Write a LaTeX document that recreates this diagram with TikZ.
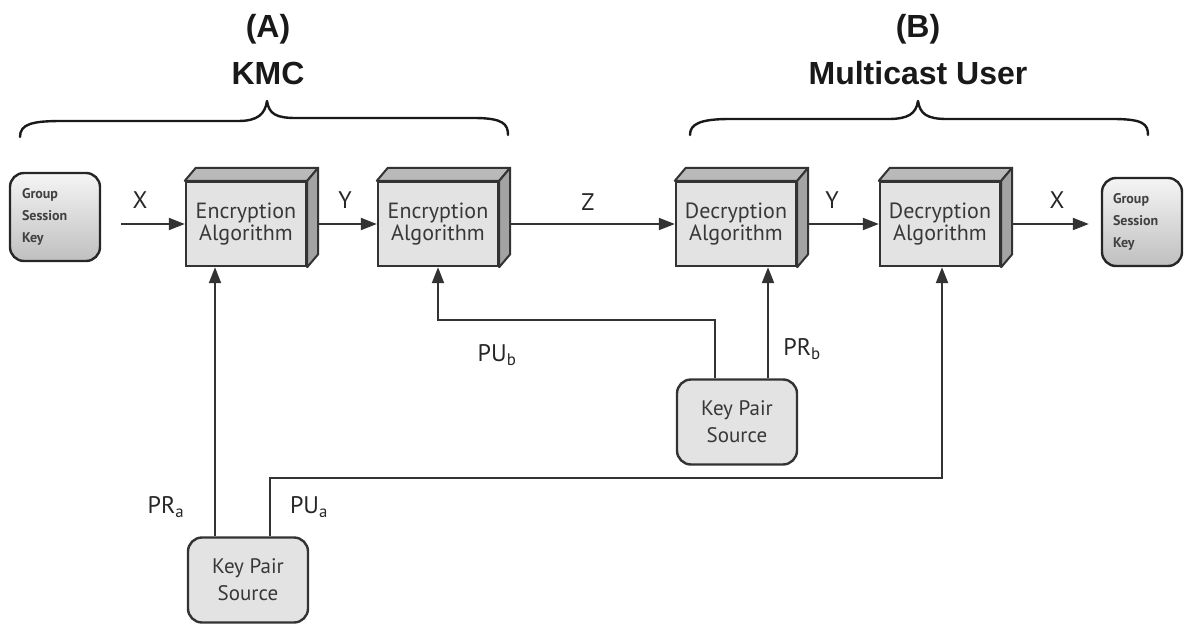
\documentclass[tikz,border=0pt]{standalone}
\usepackage{fontspec}
\setmainfont{PT Sans}
\newfontfamily\titlefont{Liberation Sans}
\usetikzlibrary{arrows.meta,calc}

\begin{document}
\begin{tikzpicture}[x=1pt,y=-1pt,
  arr/.style={draw=black!80, line width=2.2pt, -{Triangle[length=16pt,width=12pt]}},
  cube/.style={rectangle, draw=black!80, line width=2.4pt, fill=gray!22,
    minimum width=120pt, minimum height=84pt, inner sep=0pt, align=center,
    font=\fontsize{22}{22}\selectfont, text=black!78},
  topface/.style={fill=gray!55, draw=black!80, line width=2pt, line join=round},
  sideface/.style={fill=gray!72, draw=black!80, line width=2pt, line join=round},
  keysrc/.style={rectangle, rounded corners=14pt, draw=black!80, line width=2.4pt, fill=gray!22,
    minimum width=120pt, minimum height=85pt, align=center,
    font=\fontsize{21}{27}\selectfont, text=black!78},
  gsk/.style={rectangle, rounded corners=14pt, draw=black!85, line width=2.4pt,
    top color=gray!8, bottom color=gray!50, minimum height=88pt, inner sep=0pt,
    align=left, font=\bfseries\fontsize{14}{22}\selectfont, text=black!75},
  lbl/.style={font=\fontsize{24}{28}\selectfont, text=black!85},
  title/.style={font=\titlefont\bfseries\fontsize{32}{38}\selectfont, text=black!90},
  brace/.style={draw=black!90, line width=2.4pt, line cap=round, line join=round}
]
\useasboundingbox (0,0) rectangle (1191,626);

% titles
\node[title] (tA) at (268,29) {(A)};
\node[title] (tKMC) at (268,73) {KMC};
\node[title] (tB) at (918,29) {(B)};
\node[title] (tMU) at (918,73) {Multicast User};

% braces
\draw[brace] (20,137) .. controls (20,124) and (32,121) .. (62,121) -- (238,121)
  .. controls (258,121) and (265,114) .. (267,101)
  .. controls (269,114) and (276,118) .. (296,118) -- (474,118)
  .. controls (503,118) and (508,124) .. (508,135);
\draw[brace] (690,135) .. controls (690,124) and (700,119) .. (730,119) -- (888,119)
  .. controls (908,119) and (916,114) .. (918,101)
  .. controls (920,114) and (927,119) .. (947,119) -- (1113,119)
  .. controls (1143,119) and (1148,124) .. (1148,135);

% end boxes
\node[gsk, minimum width=90pt, text width=66pt] (gsk1) at (55,217) {Group\\Session\\Key};
\node[gsk, minimum width=80pt, text width=58pt] (gsk2) at (1142,222) {Group\\Session\\Key};

% algorithm blocks
\node[cube] (enc1) at (246,224) {Encryption\\Algorithm};
\node[cube] (enc2) at (438,224) {Encryption\\Algorithm};
\node[cube] (dec1) at (736,224) {Decryption\\Algorithm};
\node[cube] (dec2) at (940,224) {Decryption\\Algorithm};
\foreach \n in {enc1,enc2,dec1,dec2} {
  \filldraw[topface] (\n.north west) -- ++(11pt,13pt) -- ($(\n.north east)+(11pt,13pt)$) -- (\n.north east) -- cycle;
  \filldraw[sideface] (\n.north east) -- ++(11pt,13pt) -- ($(\n.south east)+(11pt,13pt)$) -- (\n.south east) -- cycle;
}

% key pair sources
\node[keysrc] (kpa) at (248,580) {Key Pair\\Source};
\node[keysrc] (kpb) at (737,422) {Key Pair\\Source};

% data path
\coordinate (xin) at ([xshift=20pt]gsk1.east);
\draw[arr] (xin |- enc1.west) -- (enc1.west);
\draw[arr] ([xshift=11pt]enc1.east) -- (enc2.west);
\draw[arr] ([xshift=11pt]enc2.east) -- (dec1.west);
\draw[arr] ([xshift=11pt]dec1.east) -- (dec2.west);
\coordinate (xout) at ([xshift=-12pt]gsk2.west);
\draw[arr] ([xshift=11pt]dec2.east) -- (xout |- dec2.east);

\node[lbl] (lx1) at (140,200) {X};
\node[lbl] (ly1) at (345,200) {Y};
\node[lbl] (lz) at (588,202) {Z};
\node[lbl] (ly2) at (832,200) {Y};
\node[lbl] (lx2) at (1057,200) {X};

% key paths
\coordinate (pra) at ([xshift=-33pt]kpa.north);
\draw[arr] (pra) -- (pra |- enc1.south);
\coordinate (pua) at ([xshift=22pt]kpa.north);
\coordinate (dec2in) at ([xshift=2pt]dec2.south);
\draw[arr] (pua) -- ++(0pt,58pt) -| (dec2in);
\coordinate (pub) at ([xshift=-22pt]kpb.north);
\draw[arr] (pub) -- ++(0pt,58pt) -| (enc2.south);
\coordinate (prb) at ([xshift=31pt]kpb.north);
\draw[arr] (prb) -- (prb |- dec1.south);

\node[lbl] (lpra) at (166,507) {PR\textsubscript{a}};
\node[lbl] (lpua) at (309,507) {PU\textsubscript{a}};
\node[lbl] (lpub) at (497,355) {PU\textsubscript{b}};
\node[lbl] (lprb) at (802,349) {PR\textsubscript{b}};
\end{tikzpicture}
\end{document}
